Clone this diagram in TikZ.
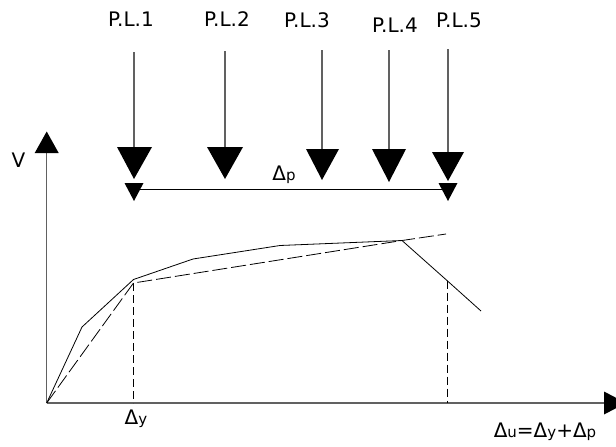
\documentclass[tikz,border=0pt]{standalone}
\usepackage{fontspec}
\setmainfont{DejaVu Sans}
\begin{document}
\begin{tikzpicture}[x=1pt,y=-1pt,
  lbl/.style={inner sep=0pt,font=\fontsize{20}{24}\selectfont},
  axisline/.style={draw=black!62,line width=1.4pt},
  loadline/.style={draw=black!62,line width=1.1pt},
  tri/.style={fill=black,draw=none},
  curve/.style={draw=black,line width=0.8pt},
  bilin/.style={draw=black,line width=0.8pt,dash pattern=on 15pt off 4pt},
  guide/.style={draw=black,line width=0.7pt,dash pattern=on 8pt off 4pt}]
\useasboundingbox (0,0) rectangle (616,447);
\clip (0,0) rectangle (616,447);
\newcommand{\sbs}[1]{{\fontsize{15}{16}\selectfont #1}}
% labels
\node[lbl] (pl1) at (131,19) {P.L.1};
\node[lbl] (pl2) at (227,19) {P.L.2};
\node[lbl] (pl3) at (307,20) {P.L.3};
\node[lbl] (pl4) at (395,25) {P.L.4};
\node[lbl] (pl5) at (459,20) {P.L.5};
\node[lbl] (V) at (18.5,160) {V};
\node[lbl] (dp) at (284,175) {Δ\sbs{p}};
\node[lbl] (dy) at (136,419) {Δ\sbs{y}};
\node[lbl] (du) at (545,432) {Δ\sbs{u}=Δ\sbs{y}+Δ\sbs{p}};
% load arrows
\coordinate (t1) at (134,52);  \coordinate (h1) at (134,147);
\coordinate (t2) at (225,51);  \coordinate (h2) at (225,147);
\coordinate (t3) at (322,50);  \coordinate (h3) at (322,149);
\coordinate (t4) at (389,50);  \coordinate (h4) at (389,149);
\coordinate (t5) at (448,49);  \coordinate (h5) at (448,152);
\draw[loadline] (t1) -- (h1);
\draw[loadline] (t2) -- (h2);
\draw[loadline] (t3) -- (h3);
\draw[loadline] (t4) -- (h4);
\draw[loadline] (t5) -- (h5);
\fill[tri] (117,147) -- (152,147) -- (134,179) -- cycle;
\fill[tri] (207,147) -- (243,147) -- (225,179) -- cycle;
\fill[tri] (306,149) -- (339,149) -- (322,180) -- cycle;
\fill[tri] (372,149) -- (406,149) -- (389,182) -- cycle;
\fill[tri] (432,152) -- (464,152) -- (448,181) -- cycle;
% delta_p span
\coordinate (s1) at (134,189);
\coordinate (s2) at (448,189);
\draw[black,line width=0.8pt] (s1) -- (s2);
\fill[tri] (124.5,183) -- (143.5,183) -- (134,201) -- cycle;
\fill[tri] (438.5,183) -- (457.5,183) -- (448,201) -- cycle;
% axes
\coordinate (O) at (46.7,403);
\coordinate (ytop) at (46.7,153);
\coordinate (xend) at (604,403);
\draw[axisline] (O) -- (ytop);
\draw[axisline] (O) -- (xend);
\fill[tri] (34.7,153) -- (58.7,153) -- (46.7,131.5) -- cycle;
\fill[tri] (604,391.5) -- (604,414.5) -- (626,403) -- cycle;
% curves
\coordinate (k1) at (82,327);
\coordinate (Ys) at (133.5,279.5);
\coordinate (k2) at (193,259);
\coordinate (k3) at (280,245.5);
\coordinate (pk) at (402,240.5);
\coordinate (Uc) at (447,280.5);
\coordinate (ce) at (481,311);
\draw[curve] (O) -- (k1) -- (Ys) -- (k2) -- (k3) -- (pk) -- (Uc) -- (ce);
\coordinate (Yb) at (133.5,283);
\coordinate (be) at (446,234);
\draw[bilin] (O) -- (Yb) -- (pk) -- (be);
% guides
\coordinate (Yx) at (133.5,403);
\coordinate (Ux) at (447,403);
\draw[guide] (Yb) -- (Yx);
\draw[guide] (Uc) -- (Ux);
\end{tikzpicture}
\end{document}
